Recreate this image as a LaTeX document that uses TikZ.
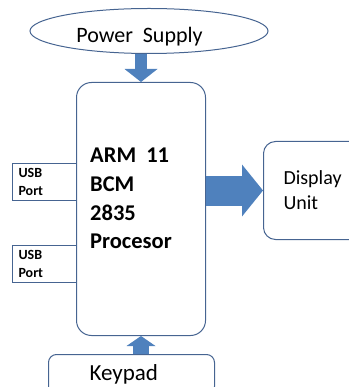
\documentclass[tikz,border=0pt]{standalone}
\usepackage{fontspec}
\setmainfont{Carlito}
\usetikzlibrary{shapes.geometric,arrows.meta,positioning,calc}
\definecolor{bd}{RGB}{70,100,145}
\definecolor{ar}{RGB}{79,129,189}

\begin{document}
\begin{tikzpicture}[x=1pt,y=-1pt,
    blk/.style={rectangle,draw=bd,line width=1pt,rounded corners=#1,inner sep=0pt},
    arr/.style={ar,line width=#1},
    txt/.style={font=\fontsize{#1}{25}\selectfont},
    port/.style={blk=0pt,minimum width=64pt,minimum height=37pt,text width=52pt,align=left,font=\fontsize{14}{18}\selectfont\bfseries,anchor=north west},
]
\useasboundingbox (0,0) rectangle (348,387);

% Power supply
\node[ellipse,draw=bd,line width=1pt,minimum width=238pt,minimum height=45pt,inner sep=0pt,
  label={[txt=22,inner sep=0pt,xshift=-9.5pt,yshift=-6pt]center:Power\ \ Supply}] (ps) at (149,31) {};

% Processor
\node[blk=15pt,minimum width=129pt,minimum height=253pt,anchor=north west,
  label={[font=\fontsize{22.5}{28.7}\selectfont\bfseries,inner sep=0pt,anchor=north west,align=left,xshift=14pt,yshift=-66pt]north west:ARM\ \ 11\\BCM\\2835\\Procesor}] (cpu) at (76,82) {};

% USB ports
\node[port] (usb1) at (12,163) {USB\\Port};
\node[port] (usb2) at (12,245) {USB\\Port};

% Display + Keypad
\node[blk=12pt,minimum width=100pt,minimum height=98pt,text width=60pt,align=left,txt=20,anchor=north west] (disp) at (263,141) {Display\\Unit};
\node[blk=8pt,minimum width=166pt,minimum height=40pt,text width=84pt,align=left,txt=23,anchor=north west] (kp) at (48,354) {Keypad};

% Connections
\draw[arr=12pt,-{Triangle[length=13pt,width=33pt,line width=0pt]}] (cpu.north |- ps.south) -- (cpu.north);
\draw[arr=30pt,-{Triangle[length=21pt,width=52pt,line width=0pt]}] (cpu.east |- disp.west) -- (disp.west);
\draw[arr=16pt,-{Triangle[length=10pt,width=29pt,line width=0pt]}] (cpu.south |- kp.north) -- (cpu.south);
\end{tikzpicture}
\end{document}
